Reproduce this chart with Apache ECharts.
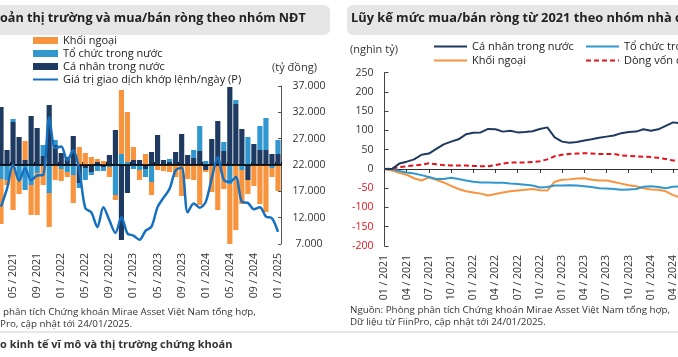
<!DOCTYPE html>
<html>
<head>
<meta charset="utf-8">
<script src="https://cdn.jsdelivr.net/npm/echarts@6/dist/echarts.min.js"></script>
<style>
html,body{margin:0;padding:0;background:#fff;overflow:hidden;}
#c{width:678px;height:357px;}
</style>
</head>
<body>
<div id="c"></div>
<script>
// ---------- Left chart data (monthly, 03/2021 .. 01/2025) ----------
const monthsL = ['03 / 2021','04 / 2021','05 / 2021','06 / 2021','07 / 2021','08 / 2021','09 / 2021','10 / 2021','11 / 2021','12 / 2021',
 '01 / 2022','02 / 2022','03 / 2022','04 / 2022','05 / 2022','06 / 2022','07 / 2022','08 / 2022','09 / 2022','10 / 2022','11 / 2022','12 / 2022',
 '01 / 2023','02 / 2023','03 / 2023','04 / 2023','05 / 2023','06 / 2023','07 / 2023','08 / 2023','09 / 2023','10 / 2023','11 / 2023','12 / 2023',
 '01 / 2024','02 / 2024','03 / 2024','04 / 2024','05 / 2024','06 / 2024','07 / 2024','08 / 2024','09 / 2024','10 / 2024','11 / 2024','12 / 2024',
 '01 / 2025'];
// net buy/sell, tỷ đồng
const caNhan = [23200,6000,17200,11200,2000,19600,14800,3600,24000,8000,4800,3200,11600,-7200,-1200,-2800,1200,-800,4000,14000,-30000,-11200,
 2000,2000,-1600,5200,12000,2000,1200,5200,12400,4000,2800,5600,-2000,10400,17600,5600,31200,24400,14400,-6000,8400,6000,6000,4400,4400];
const toChuc = [-5600,-6000,1200,-5600,-10000,-8000,-3200,4400,-11200,2000,-1600,-2800,-4000,-2000,-4800,-1200,-2400,-1600,-800,-12000,4400,1200,
 -1600,-2000,-3200,-6800,0,0,1200,0,0,0,3200,10000,1600,0,0,3600,-7600,1600,-2000,11200,0,9600,12800,-1200,5600];
const khoiNgoai = [-18000,-2000,-18000,-6000,7600,-12000,-16800,-8000,-13600,-6000,-4800,-2000,-11200,7200,4800,3200,1200,1600,-4000,-2000,25600,20000,
 5200,-4000,4400,-5200,-2000,-2400,-2800,-4800,-12400,-5600,-6000,-16000,-800,-10800,-18000,-9600,-24000,-26000,-13600,-5600,-8400,-15600,-18800,-3600,-10400];
// matched trading value per day (P), tỷ đồng
const gtgd = [14100,17500,22000,19000,21400,19100,20000,20100,31000,25200,25500,22900,24800,21000,13800,13000,10200,14000,11500,9100,12100,9000,
 8600,7800,9500,10300,14000,15800,17500,21000,21500,13000,14700,13900,15000,19500,23500,19200,18800,19700,15000,14800,13600,14000,12200,11900,9300];
const rightTicksL = [7000,12000,17000,22000,27000,32000,37000];

// ---------- Right chart data (cumulative, nghìn tỷ) ----------
const monthsR = ['01 / 2021','02 / 2021','03 / 2021','04 / 2021','05 / 2021','06 / 2021','07 / 2021','08 / 2021','09 / 2021','10 / 2021','11 / 2021','12 / 2021',
 '01 / 2022','02 / 2022','03 / 2022','04 / 2022','05 / 2022','06 / 2022','07 / 2022','08 / 2022','09 / 2022','10 / 2022','11 / 2022','12 / 2022',
 '01 / 2023','02 / 2023','03 / 2023','04 / 2023','05 / 2023','06 / 2023','07 / 2023','08 / 2023','09 / 2023','10 / 2023','11 / 2023','12 / 2023',
 '01 / 2024','02 / 2024','03 / 2024','04 / 2024','05 / 2024','06 / 2024','07 / 2024','08 / 2024','09 / 2024','10 / 2024','11 / 2024','12 / 2024',
 '01 / 2025'];
const cumCaNhan = [0,0,14,19,25,37,40,52,64,71,77,90,94,95,104,103,97,99,95,96,98,104,108,82,71,68,70,74,77,81,84,87,93,96,97,103,99,103,112,121,119];
const cumToChuc = [0,-1,-5,-9,-12,-16,-21,-26,-26,-23,-26,-30,-33,-35,-35,-36,-36,-38,-39,-41,-43,-48,-47,-43,-43,-42,-43,-45,-47,-50,-51,-52,-54,-53,-52,-46,-45,-47,-50,-46,-45];
const cumKhoiNgoai = [0,-4,-10,-15,-24,-30,-22,-28,-35,-44,-52,-58,-61,-64,-69,-65,-61,-58,-56,-54,-52,-55,-56,-33,-28,-27,-25,-24,-28,-30,-30,-34,-38,-42,-45,-50,-53,-54,-58,-68,-74];
const cumDongVon = [0,1,5,7,9,11,15,12,10,9,9,9,8,7,7,10,14,17,17,17,18,20,25,33,37,39,40,41,40,39,39,39,35,34,33,32,31,29,26,22,22];

const FONT = 'Open Sans';
const C_NAVY = '#1f3a60', C_BLUE = '#3198cf', C_ORANGE = '#f7943d', C_LINE = '#1570c0', C_RED = '#e3141b';
const fmtDot = v => String(v).replace(/\B(?=(\d{3})+(?!\d))/g, '.');

const chart = echarts.init(document.getElementById('c'), null, {renderer: 'canvas'});
const lblL = i => (i - 2) % 4 === 0;
const txt = {fontFamily: FONT, color: '#333'};
const legTxt = {fontFamily: FONT, fontSize: 11, color: '#222', lineHeight: 13};

chart.setOption({
  animation: false,
  textStyle: {fontFamily: FONT},
  title: [
    {text: 'oản thị trường và mua/bán ròng theo nhóm NĐT', left: 0, top: 12, padding: 0,
     textStyle: {fontFamily: FONT, fontSize: 12.6, fontWeight: 'bold', color: '#222'}},
    {text: 'Lũy kế mức mua/bán ròng từ 2021 theo nhóm nhà đầu tư', left: 351, top: 12, padding: 0,
     textStyle: {fontFamily: FONT, fontSize: 12.8, fontWeight: 'bold', color: '#222'}}
  ],
  legend: [
    {orient: 'vertical', left: 32, top: 34, itemWidth: 25, itemHeight: 7, itemGap: 0, padding: 0, textStyle: legTxt,
     data: [{name: 'Khối ngoại', icon: 'rect'}, {name: 'Tổ chức trong nước', icon: 'rect'},
            {name: 'Cá nhân trong nước', icon: 'rect'}, {name: 'Giá trị giao dịch khớp lệnh/ngày (P)'}]},
    {orient: 'vertical', left: 433, top: 40, itemWidth: 33, itemHeight: 8, itemGap: 1, padding: 0, textStyle: legTxt,
     data: ['Cá nhân trong nước (lũy kế)', 'Khối ngoại (lũy kế)'],
     formatter: n => n.replace(' (lũy kế)', '')},
    {orient: 'vertical', left: 585, top: 40, itemWidth: 33, itemHeight: 8, itemGap: 1, padding: 0, textStyle: legTxt,
     data: ['Tổ chức trong nước (lũy kế)', 'Dòng vốn cá nhân mới'],
     formatter: n => n.replace(' (lũy kế)', '')}
  ],
  grid: [
    {left: -2, top: 86, width: 283, height: 158, outerBoundsMode: 'none'},
    {left: 384.5, top: 72.7, width: 355.2, height: 173.3, outerBoundsMode: 'none'}
  ],
  xAxis: [
    {type: 'category', gridIndex: 0, data: monthsL, position: 'bottom', axisLine: {onZero: true, lineStyle: {color: '#000', width: 1.5}},
     axisTick: {show: true, inside: true, length: 3, interval: lblL, lineStyle: {color: '#000'}}, axisLabel: {show: false}},
    {type: 'category', gridIndex: 0, data: monthsL, position: 'bottom', axisLine: {show: false, onZero: false}, axisTick: {show: false},
     axisLabel: {rotate: 90, interval: lblL, margin: 9, fontSize: 10.5, ...txt}},
    {type: 'category', gridIndex: 1, data: monthsR, boundaryGap: false, position: 'bottom',
     axisLine: {onZero: true, lineStyle: {color: '#333', width: 1.2}},
     axisTick: {show: true, interval: 2, length: 4, lineStyle: {color: '#333'}}, axisLabel: {show: false}},
    {type: 'category', gridIndex: 1, data: monthsR, boundaryGap: false, position: 'bottom',
     axisLine: {show: false, onZero: false}, axisTick: {show: false},
     axisLabel: {rotate: 90, interval: 2, margin: 9, fontSize: 10.5, ...txt}}
  ],
  yAxis: [
    {type: 'value', gridIndex: 0, show: false, min: -31600, max: 31600, splitLine: {show: false}},
    {type: 'value', gridIndex: 0, position: 'right', min: 7000, max: 37000,
     name: '(tỷ đồng)', nameLocation: 'end', nameGap: 13,
     nameTextStyle: {fontFamily: FONT, fontSize: 11, color: '#333', align: 'center', padding: [0, 0, 0, 27]},
     axisLine: {show: true, lineStyle: {color: '#555', width: 1}},
     axisTick: {show: true, inside: true, length: 3, customValues: rightTicksL, lineStyle: {color: '#555'}},
     axisLabel: {customValues: rightTicksL, formatter: fmtDot, align: 'center', margin: 28, fontSize: 10.5, ...txt},
     splitLine: {show: false}},
    {type: 'value', gridIndex: 1, min: -200, max: 250, interval: 50,
     name: '(nghìn tỷ)', nameLocation: 'end', nameGap: 17,
     nameTextStyle: {fontFamily: FONT, fontSize: 11, color: '#333', align: 'center', padding: [0, 21, 0, 0]},
     axisLine: {show: true, lineStyle: {color: '#444', width: 1}},
     axisTick: {show: true, inside: true, length: 4, lineStyle: {color: '#444'}},
     axisLabel: {margin: 11, formatter: v => (v < 0 ? '{n|' + v + '}' : '{p|' + v + '}'),
       rich: {n: {color: '#e3141b', fontFamily: FONT, fontSize: 10.5}, p: {color: '#333', fontFamily: FONT, fontSize: 10.5}}},
     splitLine: {show: false}}
  ],
  series: [
    {name: 'Cá nhân trong nước', type: 'bar', stack: 'nd', xAxisIndex: 0, yAxisIndex: 0, data: caNhan,
     itemStyle: {color: C_NAVY}, barCategoryGap: '14%',
     markLine: {silent: true, symbol: 'none', label: {show: false}, lineStyle: {color: '#000', width: 1.5, type: 'solid'}, data: [{yAxis: 0}]}},
    {name: 'Tổ chức trong nước', type: 'bar', stack: 'nd', xAxisIndex: 0, yAxisIndex: 0, data: toChuc, itemStyle: {color: C_BLUE}},
    {name: 'Khối ngoại', type: 'bar', stack: 'nd', xAxisIndex: 0, yAxisIndex: 0, data: khoiNgoai, itemStyle: {color: C_ORANGE}},
    {name: 'Giá trị giao dịch khớp lệnh/ngày (P)', type: 'line', xAxisIndex: 0, yAxisIndex: 1, data: gtgd, smooth: 0.3,
     symbol: 'line', showSymbol: false, lineStyle: {color: C_LINE, width: 2.5}, itemStyle: {color: C_LINE}, z: 5},

    {name: 'Khối ngoại (lũy kế)', type: 'line', xAxisIndex: 2, yAxisIndex: 2, data: cumKhoiNgoai, symbol: 'line', showSymbol: false,
     lineStyle: {color: C_ORANGE, width: 2}, itemStyle: {color: C_ORANGE}},
    {name: 'Tổ chức trong nước (lũy kế)', type: 'line', xAxisIndex: 2, yAxisIndex: 2, data: cumToChuc, symbol: 'line', showSymbol: false,
     lineStyle: {color: C_BLUE, width: 2}, itemStyle: {color: C_BLUE}},
    {name: 'Dòng vốn cá nhân mới', type: 'line', xAxisIndex: 2, yAxisIndex: 2, data: cumDongVon, symbol: 'line', showSymbol: false,
     lineStyle: {color: C_RED, width: 2, type: [5, 3]}, itemStyle: {color: C_RED}},
    {name: 'Cá nhân trong nước (lũy kế)', type: 'line', xAxisIndex: 2, yAxisIndex: 2, data: cumCaNhan, symbol: 'line', showSymbol: false,
     lineStyle: {color: C_NAVY, width: 2}, itemStyle: {color: C_NAVY}}
  ],
  graphic: [
    {type: 'rect', shape: {x: -10, y: 5, width: 340, height: 30, r: 6}, style: {fill: '#e6e6e6'}, z: -10},
    {type: 'rect', shape: {x: 347, y: 5, width: 345, height: 30, r: 6}, style: {fill: '#e6e6e6'}, z: -10},
    {type: 'text', left: 3, top: 307, style: {text: 'phân tích Chứng khoán Mirae Asset Việt Nam tổng hợp,', fontFamily: FONT, fontSize: 9.8, fill: '#333'}},
    {type: 'text', left: 0, top: 319, style: {text: 'Pro, cập nhật tới 24/01/2025.', fontFamily: FONT, fontSize: 9.8, fill: '#333'}},
    {type: 'text', left: 350, top: 305, style: {text: 'Nguồn: Phòng phân tích Chứng khoán Mirae Asset Việt Nam tổng hợp,', fontFamily: FONT, fontSize: 9.8, fill: '#333'}},
    {type: 'text', left: 350, top: 317, style: {text: 'Dữ liệu từ FiinPro, cập nhật tới 24/01/2025.', fontFamily: FONT, fontSize: 9.8, fill: '#333'}},
    {type: 'line', shape: {x1: 0, y1: 332, x2: 678, y2: 332}, style: {stroke: '#cfcfcf', lineWidth: 1}},
    {type: 'text', left: 0, top: 339, style: {text: 'o kinh tế vĩ mô và thị trường chứng khoán', fontFamily: FONT, fontSize: 11, fontWeight: 'bold', fill: '#333'}}
  ]
});
</script>
</body>
</html>
